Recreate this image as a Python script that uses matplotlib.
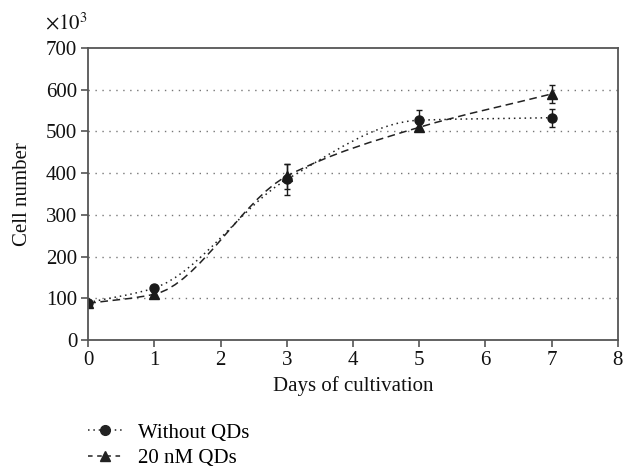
import numpy as np
import matplotlib
matplotlib.use("Agg")
import matplotlib.pyplot as plt
from matplotlib.path import Path
from matplotlib.patches import PathPatch
from matplotlib.lines import Line2D

plt.rcParams['font.family'] = ['Liberation Serif', 'DejaVu Serif']
plt.rcParams['mathtext.fontset'] = 'stix'

days = [0, 1, 3, 5, 7]
without_qds = [90, 125, 385, 527, 533]
without_err = [5, 8, 38, 25, 22]
qds_20nm = [88, 110, 393, 510, 590]
qds_err = [5, 6, 30, 8, 22]
labels = ['Without QDs', '20 nM QDs']


def smooth_path(x, y):
    # smoothed line through the points, drawn as cubic Bezier segments
    # (monotone slopes so it does not dip between points)
    x = np.asarray(x, float)
    y = np.asarray(y, float)
    n = len(x)
    h = np.diff(x)
    d = np.diff(y) / h
    m = np.empty(n)
    m[0], m[-1] = d[0], d[-1]
    for i in range(1, n - 1):
        if d[i - 1] * d[i] <= 0:
            m[i] = 0
        else:
            w1 = 2 * h[i] + h[i - 1]
            w2 = h[i] + 2 * h[i - 1]
            m[i] = (w1 + w2) / (w1 / d[i - 1] + w2 / d[i])
    verts = [(x[0], y[0])]
    codes = [Path.MOVETO]
    for i in range(n - 1):
        t = h[i] / 3
        verts += [(x[i] + t, y[i] + m[i] * t),
                  (x[i + 1] - t, y[i + 1] - m[i + 1] * t),
                  (x[i + 1], y[i + 1])]
        codes += [Path.CURVE4] * 3
    return Path(verts, codes)


fig = plt.figure(figsize=(6.35, 4.71), dpi=100)
ax = fig.add_axes([0.139, 0.278, 0.834, 0.620])

ax.add_patch(PathPatch(smooth_path(days, without_qds), fill=False,
                       ec='#222222', lw=1.1, ls=(0, (1, 2.5))))
ax.add_patch(PathPatch(smooth_path(days, qds_20nm), fill=False,
                       ec='#222222', lw=1.1, ls=(0, (5, 3))))

ax.errorbar(days, without_qds, yerr=without_err, fmt='o', color='#1a1a1a',
            ms=6.5, capsize=2.5, elinewidth=1, capthick=1)
ax.errorbar(days, qds_20nm, yerr=qds_err, fmt='^', color='#1a1a1a',
            ms=6.5, capsize=2.5, elinewidth=1, capthick=1)

ax.set_xlim(0, 8)
ax.set_ylim(0, 700)
ax.set_xticks(range(0, 9))
ax.set_yticks(range(0, 701, 100))
for yv in range(100, 700, 100):
    ax.axhline(yv, color='#777777', lw=1, ls=(0, (1, 4)), zorder=0)

for s in ax.spines.values():
    s.set_color('#555555')
    s.set_linewidth(1.3)
ax.tick_params(direction='out', length=5, width=1.2, color='#555555',
               labelsize=15, labelcolor='#111111', pad=3)

ax.set_xlabel('Days of cultivation', fontsize=15, color='#111111', labelpad=4)
ax.set_ylabel('Cell number', fontsize=15, color='#111111', labelpad=10)
fig.text(0.071, 0.950, r'$\times 10^3$', fontsize=15, color='#111111',
         va='center', ha='left')

handles = [
    Line2D([], [], color='#222222', ls=(0, (1, 2.5)), marker='o', ms=7, lw=1.1),
    Line2D([], [], color='#222222', ls=(0, (3, 3)), marker='^', ms=7, lw=1.1),
]
fig.legend(handles, labels, loc='upper left', bbox_to_anchor=(0.138, 0.102),
           frameon=False, fontsize=15, handlelength=1.7, labelspacing=0.3,
           handletextpad=0.7, borderpad=0, borderaxespad=0)

fig.savefig('out.png', dpi=100)
